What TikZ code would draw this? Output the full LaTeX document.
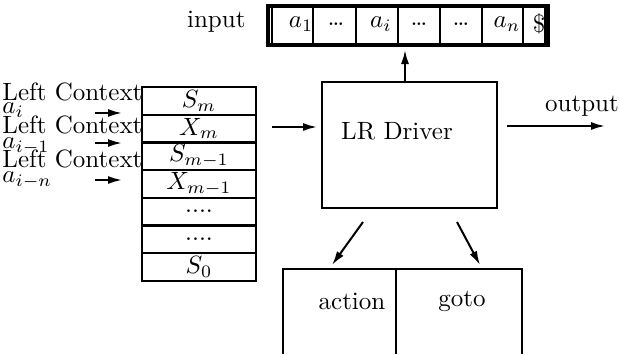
\documentclass[tikz,border=0pt]{standalone}
\usetikzlibrary{arrows.meta, positioning}
\newcommand{\fourdots}{....}

\begin{document}
\begin{tikzpicture}[x=0.4pt, y=-0.4pt,
    every node/.style={inner sep=0pt},
    stackcell/.style={rectangle, draw, line width=0.9pt, minimum width=45.6pt, minimum height=11.08pt},
    tapebox/.style={rectangle, draw, line width=1.3pt, minimum width=112pt, minimum height=15.6pt},
    drvbox/.style={rectangle, draw, line width=0.9pt, minimum width=70pt, minimum height=50.4pt},
    arr/.style={-{Latex[length=5.6pt, width=3.2pt]}, line width=0.8pt}
]
    \useasboundingbox (0,0) rectangle (619,354);

    % input tape
    \node[tapebox] (tape) at (408,25.5) {};
    \node[anchor=east] (inputlbl) at (246,22) {input};
    \foreach \xd in {272,313,356,398,440,482,523,545}
        \draw[line width=0.8pt] (\xd,6) -- (\xd,45);
    \foreach \xc/\sym [count=\k] in {301/$a_1$, 336/\ldots, 381/$a_i$, 419/\ldots, 461/\ldots, 507/$a_n$, 539/\$}
        \node (cell\k) at (\xc,24) {\sym};

    % stack
    \foreach \lbl [count=\i] in {$S_m$, $X_m$, $S_{m-1}$, $X_{m-1}$, \fourdots, \fourdots, $S_0$}
        \node[stackcell] (row\i) at (199,{73.15+27.7*\i}) {\lbl};

    % left context
    \node[anchor=west] (lc1) at (2,92) {Left Context};
    \node[anchor=west] (ai1) at (2,110) {$a_i$};
    \node[anchor=west] (lc2) at (2,125) {Left Context};
    \node[anchor=west] (ai2) at (2,146) {$a_{i-1}$};
    \node[anchor=west] (lc3) at (2,159) {Left Context};
    \node[anchor=west] (ai3) at (2,180) {$a_{i-n}$};
    \foreach \ya [count=\j] in {113,143,180} {
        \coordinate (lcfrom\j) at (95,\ya);
        \coordinate (lcto\j) at (122,\ya);
        \draw[arr] (lcfrom\j) -- (lcto\j);
    }

    % driver
    \node[drvbox] (driver) at (409.5,145) {};
    \node (drvlbl) at (397,131) {LR Driver};
    \coordinate (drvin) at (272,127);
    \coordinate (drvinend) at (317,127);
    \draw[arr] (drvin) -- (drvinend);
    \coordinate (tapein) at (405,50);
    \draw[arr] (driver.north -| tapein) -- (tapein);
    \coordinate (outfrom) at (507,126);
    \coordinate (outto) at (605,126);
    \draw[arr] (outfrom) -- (outto);
    \node (outlbl) at (582,106) {output};

    % parse table
    \draw[line width=0.9pt] (283,354) -- (283,269) -- (522,269) -- (522,354)
        (396,269) -- (396,354);
    \node (actlbl) at (352,301) {action};
    \node (gotolbl) at (462,301) {goto};
    \coordinate (actfrom) at (363,222);
    \coordinate (actto) at (332,265);
    \coordinate (gotofrom) at (457,222);
    \coordinate (gototo) at (480,265);
    \draw[arr] (actfrom) -- (actto);
    \draw[arr] (gotofrom) -- (gototo);
\end{tikzpicture}
\end{document}
